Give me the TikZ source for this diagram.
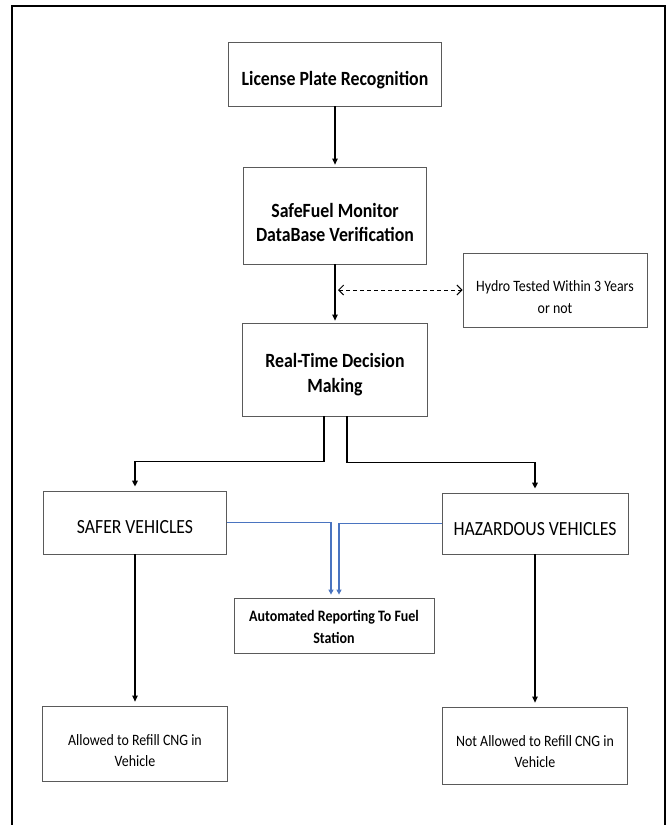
\documentclass[tikz,border=0pt]{standalone}
\usepackage{fontspec}
\setmainfont{Carlito}[FakeStretch=0.88]
\usetikzlibrary{arrows.meta,calc}
\definecolor{boxgray}{HTML}{5A5A5A}
\definecolor{linkblue}{HTML}{4A74C0}
\begin{document}
\begin{tikzpicture}[x=1pt,y=-1pt,
  box/.style={draw=boxgray, line width=0.8pt, inner sep=0pt},
  bigt/.style={font=\fontsize{20.2}{24.5}\selectfont\bfseries, align=center, inner sep=0pt},
  midt/.style={font=\fontsize{20.1}{23}\selectfont, align=center, inner sep=0pt},
  smallt/.style={font=\fontsize{15.8}{21.5}\selectfont, align=center, inner sep=0pt},
  smallb/.style={font=\fontsize{15.9}{22}\selectfont\bfseries, align=center, inner sep=0pt},
  arr/.style={draw=black, line width=1.1pt, -{Triangle[length=6pt,width=5.5pt]}, shorten >=2pt},
  arrthick/.style={draw=black, line width=1.7pt, -{Triangle[length=6pt,width=5.5pt]}, shorten >=4pt},
  dasharr/.style={draw=black, line width=1pt, dash pattern=on 4pt off 3pt, {Straight Barb[length=5pt,width=10pt]}-{Straight Barb[length=5pt,width=10pt]}},
  blu/.style={draw=linkblue, line width=1.4pt, -{Triangle[length=5pt,width=5pt]}, shorten >=3pt},
  frame/.style={draw=black, line width=2.5pt}
]
\useasboundingbox (0,0) rectangle (672,825);
\draw[frame] (12,840) -- (12,6) -- (665,6) -- (665,840);

\node[box, minimum width=213pt, minimum height=64pt,
  label={[bigt, yshift=-6pt]center:License Plate Recognition}] (lpr) at (335,74) {};
\node[box, minimum width=183pt, minimum height=97pt,
  label={[bigt, yshift=-7pt]center:{SafeFuel Monitor\\DataBase Verification}}] (sfm) at (335,215.5) {};
\node[box, minimum width=184pt, minimum height=74pt,
  label={[smallt, yshift=-7pt]center:{Hydro Tested Within 3 Years\\or not}}] (hydro) at (555,290) {};
\node[box, minimum width=185pt, minimum height=93pt,
  label={[bigt, yshift=-5pt]center:{Real-Time Decision\\Making}}] (rtdm) at (335,369.5) {};
\node[box, minimum width=183pt, minimum height=63pt,
  label={[midt, yshift=-5pt]center:SAFER VEHICLES}] (safer) at (135,522.5) {};
\node[box, minimum width=186pt, minimum height=61pt,
  label={[midt, yshift=-6pt]center:HAZARDOUS VEHICLES}] (haz) at (535,523.5) {};
\node[box, minimum width=200pt, minimum height=55pt,
  label={[smallb, yshift=-1pt]center:{Automated Reporting To Fuel\\Station}}] (auto) at (334,625.5) {};
\node[box, minimum width=185pt, minimum height=75pt,
  label={[smallt, yshift=-7pt]center:{Allowed to Refill CNG in\\Vehicle}}] (allowed) at (135,743.5) {};
\node[box, minimum width=185pt, minimum height=77pt,
  label={[smallt, yshift=-6pt]center:{Not Allowed to Refill CNG in\\Vehicle}}] (notallowed) at (535,745.5) {};

\draw[arr] (lpr.south) -- (sfm.north);
\draw[arr] (sfm.south) -- (rtdm.north);
\coordinate (dl) at (338,290);
\draw[dasharr] (dl) -- (hydro.west);

\draw[arrthick] ($(rtdm.south)+(-11,0)$) -- ++(0,45) -| (safer.north);
\draw[arrthick] ($(rtdm.south)+(12,0)$) -- ++(0,46) -| (haz.north);

\draw[blu] (safer.east) -| ($(auto.north)+(-3,0)$);
\draw[blu] (haz.west) -| ($(auto.north)+(5,0)$);

\draw[arr, shorten >=4pt] (safer.south) -- (allowed.north);
\draw[arr, shorten >=4pt] (haz.south) -- (notallowed.north);
\end{tikzpicture}
\end{document}
